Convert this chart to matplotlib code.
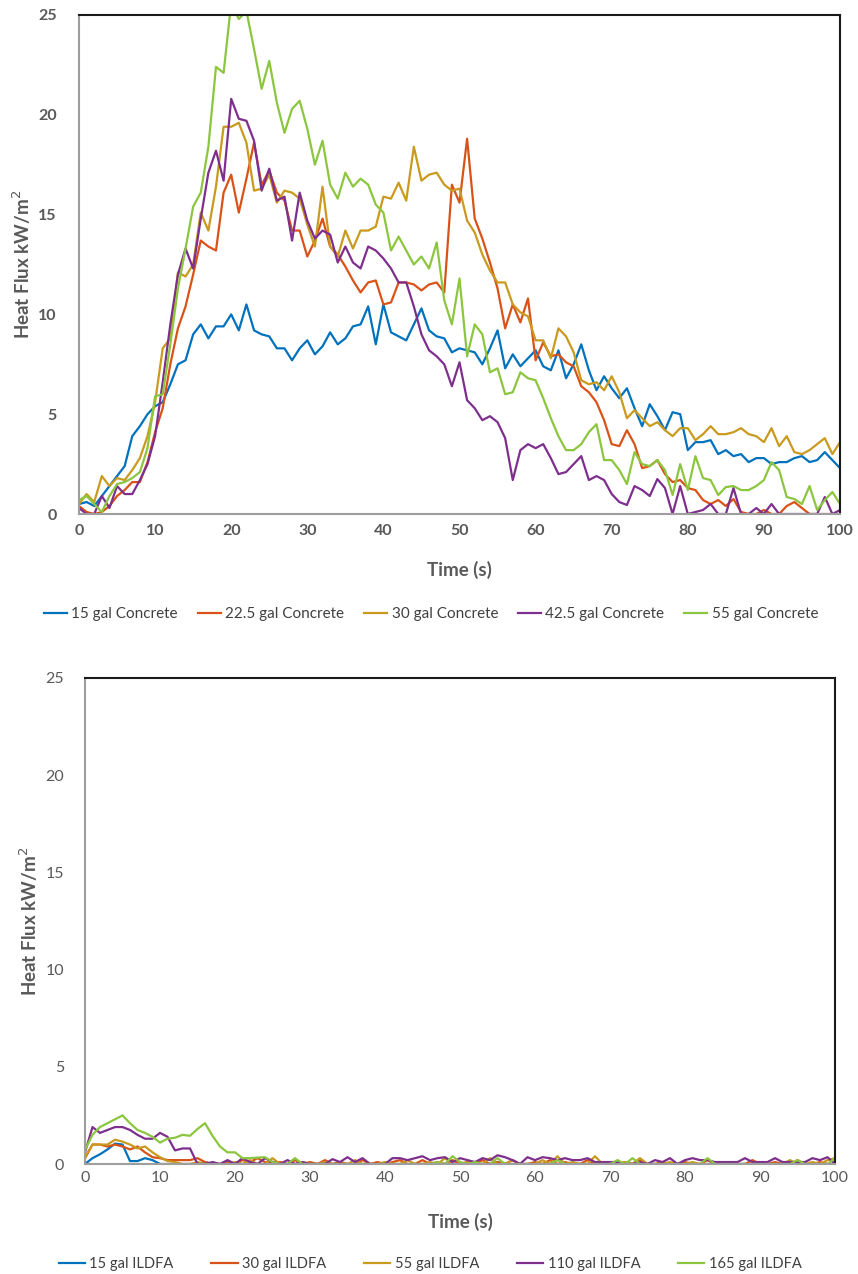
import numpy as np
import matplotlib.pyplot as plt

plt.rcParams['font.family'] = ['Lato', 'DejaVu Sans']

# time axis (s), one reading per second
time_s = np.arange(0, 101)

# ---- top panel: concrete ----
concrete_labels = ['15 gal Concrete', '22.5 gal Concrete', '30 gal Concrete',
                   '42.5 gal Concrete', '55 gal Concrete']

c15 = [0.5, 0.6, 0.4, 0.9, 1.4, 1.9, 2.4, 3.9, 4.4, 5.0, 5.4, 5.6, 6.5, 7.5, 7.7, 9.0, 9.5, 8.8, 9.4, 9.4,
       10.0, 9.2, 10.5, 9.2, 9.0, 8.9, 8.3, 8.3, 7.7, 8.3, 8.7, 8.0, 8.4, 9.1, 8.5, 8.8, 9.4, 9.5, 10.4, 8.5,
       10.5, 9.1, 8.9, 8.7, 9.5, 10.3, 9.2, 8.9, 8.8, 8.1, 8.3, 8.2, 8.1, 7.5, 8.3, 9.2, 7.3, 8.0, 7.4, 7.8,
       8.2, 7.4, 7.2, 8.2, 6.8, 7.5, 8.5, 7.2, 6.2, 6.9, 6.3, 5.8, 6.3, 5.3, 4.4, 5.5, 4.9, 4.2, 5.1, 5.0,
       3.2, 3.6, 3.6, 3.7, 3.0, 3.2, 2.9, 3.0, 2.6, 2.8, 2.8, 2.5, 2.6, 2.6, 2.8, 2.9, 2.6, 2.7, 3.1, 2.7,
       2.3]
c22 = [0.4, 0.1, 0.0, 0.1, 0.4, 0.9, 1.2, 1.6, 1.6, 2.6, 4.1, 5.3, 7.5, 9.3, 10.4, 12.0, 13.7, 13.4, 13.2, 16.1,
       17.0, 15.1, 16.8, 18.6, 16.5, 17.2, 16.1, 15.7, 14.2, 14.2, 12.9, 13.7, 14.8, 13.4, 13.0, 12.4, 11.7, 11.1, 11.6, 11.7,
       10.5, 10.6, 11.6, 11.6, 11.5, 11.2, 11.5, 11.6, 11.1, 16.5, 15.6, 18.8, 14.8, 13.8, 12.6, 11.3, 9.3, 10.5, 9.6, 10.8,
       7.7, 8.6, 7.9, 8.0, 7.6, 7.4, 6.4, 6.1, 5.6, 4.7, 3.5, 3.4, 4.2, 3.5, 2.3, 2.4, 2.7, 2.0, 1.6, 1.7,
       1.3, 1.2, 0.7, 0.5, 0.7, 0.4, 0.75, 0.1, 0.0, 0.0, 0.2, 0.0, 0.0, 0.4, 0.6, 0.3, 0.0, 0.0, 0.0, 0.0,
       0.0]
c30 = [0.5, 1.0, 0.6, 1.9, 1.4, 1.8, 1.7, 2.2, 2.8, 3.9, 5.6, 8.3, 8.8, 12.1, 11.9, 12.5, 15.1, 14.2, 16.4, 19.4,
       19.4, 19.6, 18.6, 16.2, 16.3, 17.0, 15.6, 16.2, 16.1, 15.8, 14.5, 13.4, 16.4, 13.4, 12.9, 14.2, 13.3, 14.2, 14.2, 14.4,
       15.9, 15.8, 16.6, 15.7, 18.4, 16.7, 17.0, 17.1, 16.5, 16.2, 16.3, 14.7, 14.1, 13.0, 12.2, 11.6, 11.6, 10.5, 10.1, 9.9,
       8.7, 8.7, 7.8, 9.3, 8.9, 8.1, 6.7, 6.5, 6.6, 6.2, 6.9, 6.1, 4.8, 5.2, 4.8, 4.4, 4.6, 4.2, 3.9, 4.3,
       4.3, 3.7, 4.0, 4.4, 4.0, 4.0, 4.1, 4.3, 4.0, 3.9, 3.6, 4.3, 3.4, 3.9, 3.1, 3.0, 3.2, 3.5, 3.8, 3.0,
       3.6]
c42 = [0.3, 0.0, 0.0, 0.9, 0.3, 1.4, 1.0, 1.0, 1.7, 2.5, 3.9, 6.6, 9.5, 12.0, 13.3, 12.3, 14.8, 17.1, 18.2, 16.7,
       20.8, 19.8, 19.7, 18.7, 16.2, 17.3, 15.7, 15.9, 13.7, 16.1, 14.7, 13.8, 14.2, 14.0, 12.6, 13.4, 12.6, 12.3, 13.4, 13.2,
       12.8, 12.3, 11.6, 11.6, 10.4, 9.0, 8.2, 7.9, 7.5, 6.4, 7.6, 5.7, 5.3, 4.7, 4.9, 4.6, 3.8, 1.7, 3.2, 3.5,
       3.3, 3.5, 2.8, 2.0, 2.1, 2.5, 2.9, 1.7, 1.9, 1.7, 1.0, 0.6, 0.45, 1.4, 1.2, 0.9, 1.75, 1.3, 0.0, 1.4,
       0.0, 0.1, 0.2, 0.5, 0.0, 0.0, 1.3, 0.0, 0.0, 0.3, 0.0, 0.5, 0.0, 0.0, 0.0, 0.0, 0.0, 0.0, 0.85, 0.0,
       0.2]
c55 = [0.7, 0.9, 0.5, 0.1, 0.9, 1.5, 1.6, 1.8, 2.1, 3.3, 5.9, 6.0, 8.5, 11.3, 13.3, 15.4, 16.1, 18.4, 22.4, 22.1,
       25.6, 24.8, 25.2, 23.3, 21.3, 22.7, 20.6, 19.1, 20.3, 20.7, 19.3, 17.5, 18.7, 16.5, 15.8, 17.1, 16.4, 16.8, 16.5, 15.5,
       15.1, 13.2, 13.9, 13.2, 12.5, 12.9, 12.3, 13.6, 10.7, 9.5, 11.8, 7.9, 9.5, 9.0, 7.1, 7.3, 6.0, 6.1, 7.1, 6.8,
       6.7, 5.8, 4.8, 3.9, 3.2, 3.2, 3.5, 4.1, 4.5, 2.7, 2.7, 2.2, 1.5, 3.1, 2.5, 2.4, 2.7, 2.2, 0.95, 2.5,
       1.2, 2.9, 1.8, 1.7, 0.95, 1.35, 1.4, 1.2, 1.2, 1.4, 1.7, 2.6, 2.2, 0.85, 0.75, 0.5, 1.4, 0.2, 0.7, 1.1,
       0.5]

# ---- bottom panel: ILDFA ----
ildfa_labels = ['15 gal ILDFA', '30 gal ILDFA', '55 gal ILDFA', '110 gal ILDFA', '165 gal ILDFA']

i15 = [0.0, 0.3, 0.5, 0.75, 1.05, 1.0, 0.15, 0.15, 0.3, 0.2, 0.0,
       0.0, 0.0, 0.0, 0.0, 0.0, 0.1, 0.0, 0.0, 0.0, 0.0,
       0.0, 0.0, 0.0, 0.0, 0.1, 0.0, 0.0, 0.0, 0.0, 0.0,
       0.0, 0.0, 0.0, 0.0, 0.0, 0.0, 0.0, 0.0, 0.0, 0.0,
       0.0, 0.0, 0.0, 0.0, 0.0, 0.0, 0.0, 0.0, 0.0, 0.0,
       0.0, 0.0, 0.0, 0.0, 0.1, 0.0, 0.0, 0.0, 0.0, 0.0,
       0.0, 0.0, 0.0, 0.0, 0.0, 0.0, 0.0, 0.0, 0.0, 0.0,
       0.0, 0.0, 0.0, 0.0, 0.0, 0.0, 0.0, 0.0, 0.0, 0.0,
       0.0, 0.0, 0.0, 0.0, 0.0, 0.0, 0.0, 0.0, 0.0, 0.0,
       0.0, 0.0, 0.0, 0.0, 0.0, 0.0, 0.0, 0.0, 0.0, 0.0]
i30 = [0.3, 1.0, 1.0, 0.9, 1.0, 0.9, 0.75, 0.9, 0.6, 0.35, 0.3,
       0.2, 0.2, 0.2, 0.2, 0.3, 0.1, 0.0, 0.0, 0.1, 0.0,
       0.2, 0.1, 0.3, 0.1, 0.0, 0.1, 0.0, 0.2, 0.0, 0.1,
       0.0, 0.2, 0.0, 0.1, 0.0, 0.0, 0.2, 0.0, 0.1, 0.0,
       0.1, 0.2, 0.0, 0.0, 0.2, 0.0, 0.1, 0.0, 0.2, 0.0,
       0.1, 0.0, 0.2, 0.0, 0.1, 0.0, 0.2, 0.0, 0.0, 0.1,
       0.0, 0.2, 0.0, 0.1, 0.0, 0.0, 0.2, 0.0, 0.1, 0.0,
       0.0, 0.1, 0.0, 0.2, 0.0, 0.0, 0.1, 0.0, 0.0, 0.1,
       0.0, 0.0, 0.2, 0.0, 0.0, 0.1, 0.0, 0.0, 0.2, 0.0,
       0.0, 0.1, 0.0, 0.0, 0.2, 0.0, 0.0, 0.1, 0.0, 0.0]
i55 = [0.35, 1.0, 1.0, 1.0, 1.25, 1.15, 1.0, 0.8, 0.9, 0.6, 0.35,
       0.15, 0.1, 0.0, 0.0, 0.1, 0.0, 0.0, 0.0, 0.0, 0.1,
       0.0, 0.2, 0.0, 0.0, 0.3, 0.0, 0.0, 0.0, 0.1, 0.0,
       0.0, 0.1, 0.0, 0.0, 0.0, 0.2, 0.0, 0.0, 0.0, 0.1,
       0.0, 0.0, 0.2, 0.0, 0.0, 0.1, 0.0, 0.3, 0.0, 0.0,
       0.1, 0.0, 0.0, 0.3, 0.0, 0.0, 0.2, 0.0, 0.0, 0.0,
       0.2, 0.0, 0.4, 0.0, 0.1, 0.0, 0.0, 0.4, 0.0, 0.0,
       0.0, 0.1, 0.0, 0.3, 0.0, 0.0, 0.0, 0.1, 0.0, 0.0,
       0.1, 0.0, 0.0, 0.0, 0.1, 0.0, 0.0, 0.0, 0.0, 0.1,
       0.0, 0.0, 0.0, 0.2, 0.0, 0.0, 0.1, 0.0, 0.2, 0.3]
i110 = [0.6, 1.9, 1.6, 1.75, 1.9, 1.9, 1.75, 1.5, 1.3, 1.3, 1.6,
        1.4, 0.7, 0.8, 0.8, 0.0, 0.0, 0.1, 0.0, 0.2, 0.0,
        0.3, 0.1, 0.0, 0.3, 0.1, 0.0, 0.2, 0.0, 0.1, 0.0,
        0.0, 0.0, 0.25, 0.1, 0.35, 0.1, 0.3, 0.0, 0.0, 0.0,
        0.3, 0.3, 0.2, 0.3, 0.4, 0.2, 0.3, 0.35, 0.1, 0.3,
        0.2, 0.1, 0.3, 0.2, 0.45, 0.35, 0.2, 0.0, 0.35, 0.2,
        0.35, 0.3, 0.2, 0.3, 0.2, 0.2, 0.3, 0.1, 0.1, 0.1,
        0.1, 0.0, 0.0, 0.1, 0.0, 0.2, 0.1, 0.3, 0.0, 0.2,
        0.3, 0.2, 0.2, 0.1, 0.1, 0.1, 0.1, 0.3, 0.1, 0.1,
        0.1, 0.3, 0.1, 0.1, 0.1, 0.1, 0.3, 0.2, 0.35, 0.0]
i165 = [0.72, 1.5, 1.9, 2.1, 2.3, 2.5, 2.1, 1.75, 1.6, 1.4, 1.1,
        1.3, 1.35, 1.5, 1.45, 1.8, 2.1, 1.45, 0.9, 0.6, 0.6,
        0.3, 0.3, 0.33, 0.35, 0.1, 0.0, 0.0, 0.3, 0.0, 0.0,
        0.0, 0.0, 0.0, 0.0, 0.0, 0.0, 0.0, 0.0, 0.0, 0.0,
        0.0, 0.0, 0.0, 0.0, 0.0, 0.0, 0.1, 0.0, 0.4, 0.1,
        0.0, 0.1, 0.0, 0.0, 0.3, 0.0, 0.0, 0.0, 0.0, 0.0,
        0.0, 0.0, 0.2, 0.0, 0.0, 0.0, 0.0, 0.0, 0.0, 0.0,
        0.2, 0.0, 0.3, 0.0, 0.0, 0.0, 0.0, 0.0, 0.0, 0.0,
        0.0, 0.0, 0.3, 0.0, 0.0, 0.0, 0.0, 0.0, 0.0, 0.0,
        0.0, 0.0, 0.0, 0.0, 0.2, 0.0, 0.0, 0.0, 0.0, 0.3]

colors = ['#0072BD', '#D95319', '#C99A1E', '#7E2F8E', '#8CC63F']
txt_gray = '#595959'


def style_axes(ax, bold_ticks, ypad, xpad):
    ax.set_xlim(0, 100)
    ax.set_ylim(0, 25)
    ax.set_xticks(range(0, 101, 10))
    ax.set_yticks(range(0, 26, 5))
    ax.tick_params(length=0, labelsize=11.5, colors=txt_gray)
    ax.tick_params(axis='y', pad=ypad)
    ax.tick_params(axis='x', pad=xpad)
    if bold_ticks:
        for lab in ax.get_xticklabels() + ax.get_yticklabels():
            lab.set_fontweight('bold')
    for side in ['left', 'bottom']:
        ax.spines[side].set_color('#9E9E9E')
        ax.spines[side].set_linewidth(1.5)
    for side in ['top', 'right']:
        ax.spines[side].set_color('#1A1A1A')
        ax.spines[side].set_linewidth(1.5)
    ax.set_xlabel('Time (s)', fontsize=13.5, fontweight='bold', color=txt_gray)
    ax.set_ylabel('Heat Flux kW/m$^{2}$', fontsize=13.5, fontweight='bold', color=txt_gray)


fig = plt.figure(figsize=(8.58, 12.74), dpi=100)

# top chart
ax1 = fig.add_axes([79 / 858, 1 - 514 / 1274, 761 / 858, 499 / 1274])
for vals, lab, col in zip([c15, c22, c30, c42, c55], concrete_labels, colors):
    ax1.plot(time_s, vals, color=col, lw=1.6, label=lab)
style_axes(ax1, True, 16, 7)
ax1.xaxis.set_label_coords(0.5, -0.095)
ax1.yaxis.set_label_coords(-0.06, 0.5)
ax1.legend(loc='center', bbox_to_anchor=(431 / 858, 1 - 614 / 1274), bbox_transform=fig.transFigure,
           ncol=5, frameon=False, fontsize=11, handlelength=1.5, handletextpad=0.3,
           columnspacing=1.3, labelcolor='#404040')

# bottom chart
ax2 = fig.add_axes([85 / 858, 1 - 1164 / 1274, 750 / 858, 486 / 1274])
for vals, lab, col in zip([i15, i30, i55, i110, i165], ildfa_labels, colors):
    ax2.plot(time_s, vals, color=col, lw=1.6, label=lab)
style_axes(ax2, False, 15, 5)
ax2.xaxis.set_label_coords(0.5, -0.1)
ax2.yaxis.set_label_coords(-0.06, 0.5)
ax2.legend(loc='center', bbox_to_anchor=(430 / 858, 1 - 1264 / 1274), bbox_transform=fig.transFigure,
           ncol=5, frameon=False, fontsize=10.5, handlelength=1.8, handletextpad=0.3,
           columnspacing=2.6, labelcolor='#404040')

fig.savefig('out.png', dpi=100)
